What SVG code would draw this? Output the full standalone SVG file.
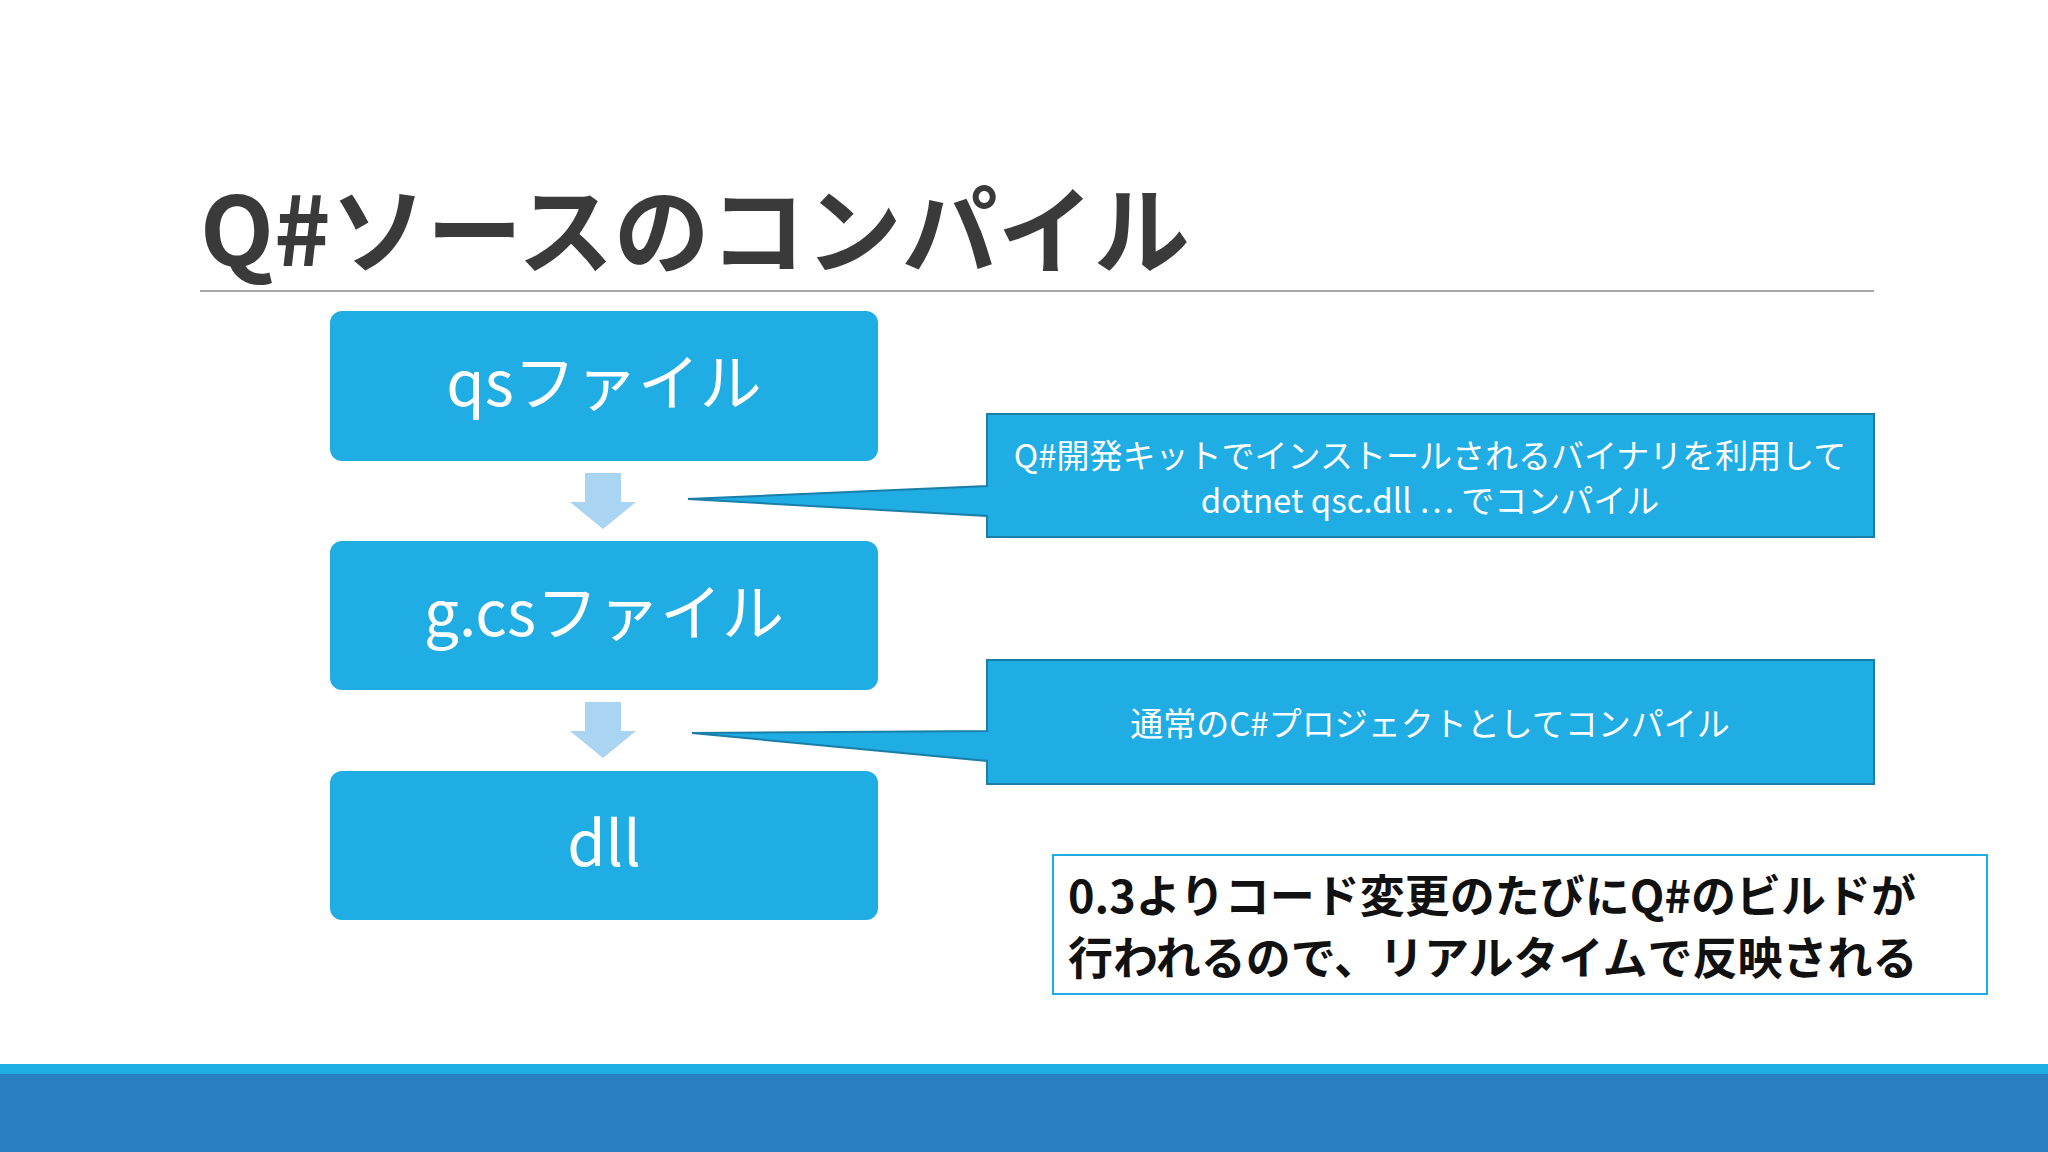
<svg xmlns="http://www.w3.org/2000/svg" width="2048" height="1152" viewBox="0 0 2048 1152">
<style>
text{font-family:"Noto Sans CJK JP","Noto Sans",sans-serif}
.box{fill:#1FADE4}
.bt{fill:#fff;font-size:62px;text-anchor:middle}
.ct{fill:#fff;font-size:33px;text-anchor:middle}
.call{fill:#1FADE4;stroke:#1A7FA8;stroke-width:2}
.arr{fill:#A9D4F2}
</style>
<rect width="2048" height="1152" fill="#fff"/>
<text x="200" y="266" font-size="96" font-weight="bold" fill="#3a3a3a">Q#ソースのコンパイル</text>
<line x1="200" y1="291" x2="1874" y2="291" stroke="#a6a6a6" stroke-width="2"/>
<g id="qs"><rect class="box" x="330" y="311" width="548" height="150" rx="12"/><text class="bt" x="604" y="406">qsファイル</text></g>
<g id="gcs"><rect class="box" x="330" y="541" width="548" height="149" rx="12"/><text class="bt" x="604" y="636">g.csファイル</text></g>
<g id="dll"><rect class="box" x="330" y="771" width="548" height="149" rx="12"/><text class="bt" x="604" y="866">dll</text></g>
<g id="connectors">
<path class="arr" d="M585 473H621V502H636L603 529L570 502H585Z"/>
<path class="arr" d="M585 702H621V731H636L603 758L570 731H585Z"/>
</g>
<g id="callout1"><path class="call" d="M987 414H1874V537H987V516L688 499L987 486Z"/>
<text class="ct" x="1430" y="468">Q#開発キットでインストールされるバイナリを利用して</text>
<text class="ct" x="1430" y="513">dotnet qsc.dll … でコンパイル</text></g>
<g id="callout2"><path class="call" d="M987 660H1874V784H987V761L692 733L987 731Z"/>
<text class="ct" x="1430" y="736">通常のC#プロジェクトとしてコンパイル</text></g>
<g id="note"><rect x="1053" y="855" width="934" height="139" fill="#fff" stroke="#1FADE4" stroke-width="2"/>
<text x="1068" y="913" font-size="45" font-weight="bold" fill="#111">0.3よりコード変更のたびにQ#のビルドが</text>
<text x="1068" y="975" font-size="45" font-weight="bold" fill="#111">行われるので、リアルタイムで反映される</text></g>
<rect x="0" y="1064" width="2048" height="10" fill="#1FADE4"/>
<rect x="0" y="1074" width="2048" height="78" fill="#2A7FC3"/>
</svg>
